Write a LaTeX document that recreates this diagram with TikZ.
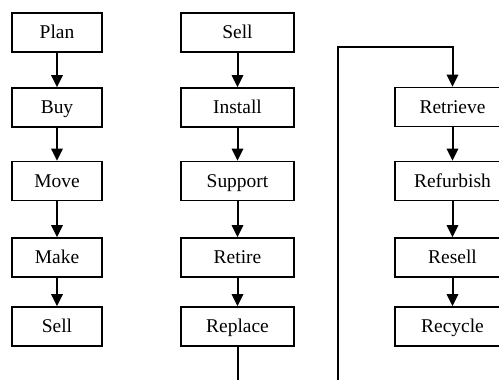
\documentclass[tikz,border=0pt]{standalone}
\usepackage{fontspec}
\setmainfont{Liberation Serif}
\usetikzlibrary{arrows.meta}
\begin{document}
\begin{tikzpicture}[x=0.75pt,y=-0.75pt,
  box/.style={draw,line width=1.3pt,rectangle,inner sep=0pt,minimum height=29.25pt,text height=10.5pt,text depth=1pt,font=\fontsize{14.6}{17}\selectfont},
  boxa/.style={box,minimum width=67.5pt},
  boxb/.style={box,minimum width=84.75pt},
  boxc/.style={box,minimum width=86.25pt},
  conn/.style={line width=1.5pt},
  arr/.style={conn,-{Triangle[length=9pt,width=8.5pt]}}]
\useasboundingbox (0,0) rectangle (499,379);
% column 1
\node[boxa] (p1) at (57,32.5) {Plan};
\node[boxa] (p2) at (57,107.5) {Buy};
\node[boxa] (p3) at (57,181) {Move};
\node[boxa] (p4) at (57,257.5) {Make};
\node[boxa] (p5) at (57,326.5) {Sell};
% column 2
\node[boxb] (s1) at (237.5,32.5) {Sell};
\node[boxb] (s2) at (237.5,107.5) {Install};
\node[boxb] (s3) at (237.5,181) {Support};
\node[boxb] (s4) at (237.5,257.5) {Retire};
\node[boxb] (s5) at (237.5,326.5) {Replace};
% column 3
\node[boxc] (r1) at (452.5,107) {Retrieve};
\node[boxc] (r2) at (452.5,181) {Refurbish};
\node[boxc] (r3) at (452.5,257.5) {Resell};
\node[boxc] (r4) at (452.5,326.5) {Recycle};
% arrows
\foreach \a/\b in {p1/p2,p2/p3,p3/p4,p4/p5,s1/s2,s2/s3,s3/s4,s4/s5,r1/r2,r2/r3,r3/r4}
  \draw[arr] (\a.south) -- (\b.north);
\coordinate (e1) at (237.5,380);
\coordinate (e2) at (338,380);
\coordinate (c1) at (338,47);
\draw[conn] (s5.south) -- (e1);
\draw[arr] (e2) -- (c1) -| (r1.north);
\end{tikzpicture}
\end{document}
